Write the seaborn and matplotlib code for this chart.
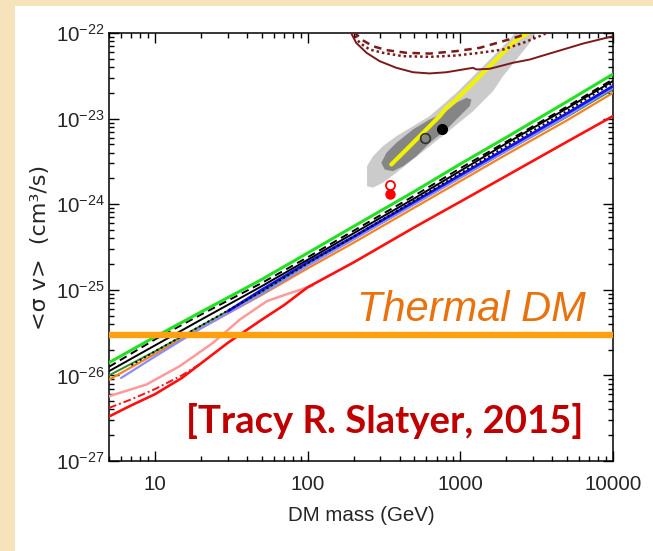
import numpy as np
import pandas as pd
import matplotlib
matplotlib.use("Agg")
import matplotlib.pyplot as plt
import seaborn as sns
from matplotlib import font_manager
from matplotlib.patches import Rectangle
from matplotlib.ticker import LogLocator, NullFormatter, FixedLocator, FixedFormatter

# ---------------- data ----------------
x_ticks = [10, 100, 1000, 10000]
x_tick_labels = ["10", "100", "1000", "10000"]
y_ticks = [1e-27, 1e-26, 1e-25, 1e-24, 1e-23, 1e-22]
y_tick_labels = [r"$\mathregular{10^{-27}}$", r"$\mathregular{10^{-26}}$", r"$\mathregular{10^{-25}}$",
                 r"$\mathregular{10^{-24}}$", r"$\mathregular{10^{-23}}$", r"$\mathregular{10^{-22}}$"]
thermal_sv = 3e-26

mass_grid = [5, 10, 20, 50, 100, 200, 500, 1000, 2000, 5000, 10000]
green_sv = [1.41e-26, 2.82e-26, 5.50e-26, 1.32e-25, 2.69e-25, 5.50e-25, 1.41e-24, 2.95e-24, 6.03e-24, 1.58e-23, 3.31e-23]
black_solid_sv = [1.12e-26, 2.24e-26, 4.47e-26, 1.10e-25, 2.24e-25, 4.57e-25, 1.17e-24, 2.45e-24, 5.13e-24, 1.32e-23, 2.75e-23]
black_dashed_sv = [1.26e-26, 2.63e-26, 5.13e-26, 1.20e-25, 2.40e-25, 4.90e-25, 1.26e-24, 2.63e-24, 5.37e-24, 1.38e-23, 2.88e-23]
darkgreen_sv = [1.00e-26, 1.91e-26, 3.80e-26, 9.33e-26, 1.95e-25, 3.89e-25, 1.00e-24, 2.04e-24, 4.17e-24, 1.05e-23, 2.19e-23]
orange_sv = [8.91e-27, 1.78e-26, 3.55e-26, 8.71e-26, 1.78e-25, 3.55e-25, 9.12e-25, 1.86e-24, 3.80e-24, 9.55e-24, 2.00e-23]

dotted_mass = [7, 10, 20, 50, 100, 200, 500, 1000, 2000, 5000, 10000]
black_dotted_sv = [1.32e-26, 1.91e-26, 3.80e-26, 9.55e-26, 2.04e-25, 4.17e-25, 1.10e-24, 2.29e-24, 4.79e-24, 1.23e-23, 2.63e-23]

lightblue_mass = [6, 10, 20, 50, 100, 200, 500, 1000, 2000, 5000, 10000]
lightblue_sv = [9.33e-27, 1.66e-26, 3.55e-26, 8.91e-26, 1.91e-25, 3.89e-25, 1.00e-24, 2.04e-24, 4.17e-24, 1.07e-23, 2.29e-23]

blue_mass = [30, 50, 100, 200, 500, 1000, 2000, 5000, 10000]
blue_sv = [5.62e-26, 1.00e-25, 2.09e-25, 4.17e-25, 1.07e-24, 2.19e-24, 4.47e-24, 1.15e-23, 2.40e-23]

red_mass = [5, 7, 10, 15, 20, 30, 50, 70, 100, 200, 500, 1000, 2000, 5000, 10000]
red_sv = [3.31e-27, 4.47e-27, 6.03e-27, 9.33e-27, 1.38e-26, 2.40e-26, 4.47e-26, 6.61e-26, 1.07e-25, 2.09e-25, 5.37e-25, 1.07e-24, 2.14e-24, 5.37e-24, 1.07e-23]

red_dashdot_mass = [5, 7, 10, 15, 20]
red_dashdot_sv = [4.17e-27, 5.25e-27, 6.92e-27, 1.00e-26, 1.38e-26]

pink_mass = [5, 8.8, 14.5, 24, 36, 54, 72, 108]
pink_sv = [5.71e-27, 7.83e-27, 1.28e-26, 2.40e-26, 4.50e-26, 7.36e-26, 8.81e-26, 1.12e-25]

# upper (maroon) limits
maroon_solid_mass = [190, 208, 243, 296, 381, 490, 630, 811, 1042, 1211, 1276, 1560, 2213, 2851, 3664, 4710, 6368, 10000]
maroon_solid_sv = [1.05e-22, 7.67e-23, 5.87e-23, 4.69e-23, 3.92e-23, 3.48e-23, 3.37e-23, 3.48e-23, 3.75e-23, 3.92e-23, 3.75e-23, 3.82e-23, 4.49e-23, 4.90e-23, 5.61e-23, 6.41e-23, 7.53e-23, 9.18e-23]
maroon_dotted_mass = [196, 219, 255, 311, 422, 630, 942, 1340, 1905, 2576, 3311, 3900]
maroon_dotted_sv = [1.05e-22, 7.67e-23, 6.41e-23, 5.87e-23, 5.36e-23, 5.27e-23, 5.46e-23, 5.87e-23, 6.41e-23, 7.67e-23, 9.18e-23, 1.05e-22]
maroon_dashed_mass = [200, 225, 268, 328, 444, 630, 942, 1340, 1905, 2449, 2900]
maroon_dashed_sv = [1.05e-22, 8.39e-23, 7.01e-23, 6.31e-23, 5.87e-23, 5.75e-23, 6.14e-23, 6.71e-23, 8.02e-23, 9.18e-23, 1.05e-22]

# best-fit regions (outer / inner) and yellow track
outer_mass = [2275, 3076, 2851, 2333, 1905, 1637, 1211, 1042, 811, 630, 490, 381, 311, 268, 245, 245, 268, 311, 381, 490, 630, 771, 942, 1153, 1409, 1726, 2109]
outer_sv = [1.0e-22, 1.0e-22, 7.67e-23, 4.90e-23, 3.13e-23, 2.09e-23, 1.22e-23, 9.77e-24, 6.82e-24, 4.76e-24, 3.33e-24, 2.33e-24, 1.78e-24, 1.56e-24, 1.62e-24, 2.78e-24, 3.63e-24, 4.76e-24, 6.22e-24, 8.15e-24, 1.07e-23, 1.46e-23, 2.0e-23, 2.86e-23, 4.09e-23, 5.87e-23, 8.39e-23]
inner_mass = [304, 328, 381, 490, 630, 791, 942, 1096, 1183, 1153, 991, 811, 630, 515, 422, 362, 320]
inner_sv = [3.05e-24, 3.98e-24, 5.21e-24, 7.46e-24, 9.77e-24, 1.17e-23, 1.53e-23, 1.75e-23, 1.67e-23, 1.40e-23, 1.07e-23, 7.46e-24, 5.21e-24, 3.63e-24, 2.78e-24, 2.43e-24, 2.54e-24]
yellow_mass = [353, 444, 570, 733, 811, 918, 1153, 1483, 1905, 2333, 2851]
yellow_sv = [2.91e-24, 4.36e-24, 6.82e-24, 1.07e-23, 1.34e-23, 1.60e-23, 2.39e-23, 3.75e-23, 5.87e-23, 8.39e-23, 1.02e-22]

bestfit_filled = (759, 7.59e-24)
bestfit_open = (585, 5.96e-24)
red_open = (348, 1.67e-24)
red_filled = (348, 1.30e-24)

# ---------------- style ----------------
sns.set_style("ticks")
names = {f.name for f in font_manager.fontManager.ttflist}
narrow = "Liberation Sans Narrow" if "Liberation Sans Narrow" in names else "Liberation Sans"
tick_size = 16.5 if narrow == "Liberation Sans Narrow" else 14.8
plt.rcParams["font.family"] = [narrow, "DejaVu Sans"]
plt.rcParams["axes.unicode_minus"] = False
plt.rcParams["mathtext.fontset"] = "custom"
plt.rcParams["mathtext.rm"] = narrow
plt.rcParams["mathtext.it"] = narrow

W, H = 653, 551
fig = plt.figure(figsize=(W / 100, H / 100), dpi=100)
fig.patch.set_facecolor("#F6E3BC")
fig.patches.append(Rectangle((15 / W, 0), 1, 1 - 6 / H, transform=fig.transFigure,
                             facecolor="white", edgecolor="none", zorder=-10))

ax = fig.add_axes([109 / W, 1 - 461 / H, (613 - 109) / W, (461 - 33) / H])
ax.set_facecolor("white")
ax.set_xscale("log")
ax.set_yscale("log")


def draw(x, y, color, ls="-", lw=1.6, z=3, **kw):
    sns.lineplot(x=x, y=y, ax=ax, color=color, linestyle=ls, linewidth=lw,
                 estimator=None, sort=False, legend=False, zorder=z, **kw)


# regions
ax.fill(outer_mass, outer_sv, color="#CBCBCB", lw=0, zorder=1)
ax.fill(inner_mass, inner_sv, color="#858585", lw=0, zorder=1.5)
draw(yellow_mass, yellow_sv, "#F2F200", lw=3.0, z=2)
ax.plot(*bestfit_filled, marker="o", ms=7, mfc="black", mec="black", zorder=2.5)
ax.plot(*bestfit_open, marker="o", ms=7, mfc="none", mec="#303030", mew=1.2, zorder=2.5)
ax.plot(*red_open, marker="o", ms=6.5, mfc="white", mec="red", mew=1.3, zorder=2.5)
ax.plot(*red_filled, marker="o", ms=6.5, mfc="red", mec="red", zorder=2.5)

# maroon limits
draw(maroon_solid_mass, maroon_solid_sv, "#7B1A1A", lw=1.4)
draw(maroon_dotted_mass, maroon_dotted_sv, "#7B1A1A", ls=(0, (1, 1.2)), lw=1.8)
draw(maroon_dashed_mass, maroon_dashed_sv, "#7B1A1A", ls=(0, (3, 2.2)), lw=1.8)

# lower limit lines
draw(pink_mass, pink_sv, "#FF9A9A", lw=1.8)
draw(red_mass, red_sv, "#FF1010", lw=1.9)
draw(red_dashdot_mass, red_dashdot_sv, "#FF1010", ls=(0, (4, 1.5, 1, 1.5)), lw=1.4)
draw(mass_grid, orange_sv, "#F58220", lw=1.6)
draw(mass_grid, darkgreen_sv, "#2E8B2E", lw=1.4)
draw(lightblue_mass, lightblue_sv, "#8C8CFF", lw=1.6)
draw(blue_mass, blue_sv, "#1010F0", lw=2.0)
draw(dotted_mass, black_dotted_sv, "black", ls=(0, (1, 1.5)), lw=1.4)
draw(mass_grid, black_solid_sv, "black", lw=1.4)
draw(mass_grid, black_dashed_sv, "black", ls=(0, (4, 2.5)), lw=1.4)
draw(mass_grid, green_sv, "#22E022", lw=2.2)

# thermal relic line
ax.axhline(thermal_sv, color="#FFA010", lw=4.6, zorder=5)

ax.set_xlim(5, 10000)
ax.set_ylim(1e-27, 1e-22)

ax.xaxis.set_major_locator(FixedLocator(x_ticks))
ax.xaxis.set_major_formatter(FixedFormatter(x_tick_labels))
ax.xaxis.set_minor_locator(LogLocator(base=10, subs=np.arange(2, 10), numticks=30))
ax.xaxis.set_minor_formatter(NullFormatter())
ax.yaxis.set_major_locator(FixedLocator(y_ticks))
ax.yaxis.set_major_formatter(FixedFormatter(y_tick_labels))
ax.yaxis.set_minor_locator(LogLocator(base=10, subs=np.arange(2, 10), numticks=30))
ax.yaxis.set_minor_formatter(NullFormatter())

ax.tick_params(which="both", direction="in", top=True, right=True, color="black", width=1.0)
ax.tick_params(which="major", length=7.5, labelsize=tick_size)
ax.tick_params(which="minor", length=3.8)
ax.tick_params(axis="x", which="major", pad=10)
ax.tick_params(axis="y", which="major", pad=3)
for s in ax.spines.values():
    s.set_color("black")
    s.set_linewidth(1.1)

ax.set_xlabel("DM mass (GeV)", fontsize=tick_size, va="top")
ax.xaxis.set_label_coords(0.5, -0.105)
ax.set_ylabel("<σ v>  (cm³/s)", fontsize=16, family=["DejaVu Sans"])
ax.yaxis.set_label_coords(-0.117, 0.5)

fig.text(471 / W, 1 - 321 / H, "Thermal DM", color="#E8730E", fontsize=30,
         style="italic", family=["Liberation Sans", "DejaVu Sans"], ha="center", va="baseline")
fig.text(385 / W, 1 - 433 / H, "[Tracy R. Slatyer, 2015]", color="#C00000", fontsize=27.5,
         weight="bold", family=["Lato", "DejaVu Sans"], ha="center", va="baseline")

fig.savefig("out.png", dpi=100, facecolor=fig.get_facecolor())
